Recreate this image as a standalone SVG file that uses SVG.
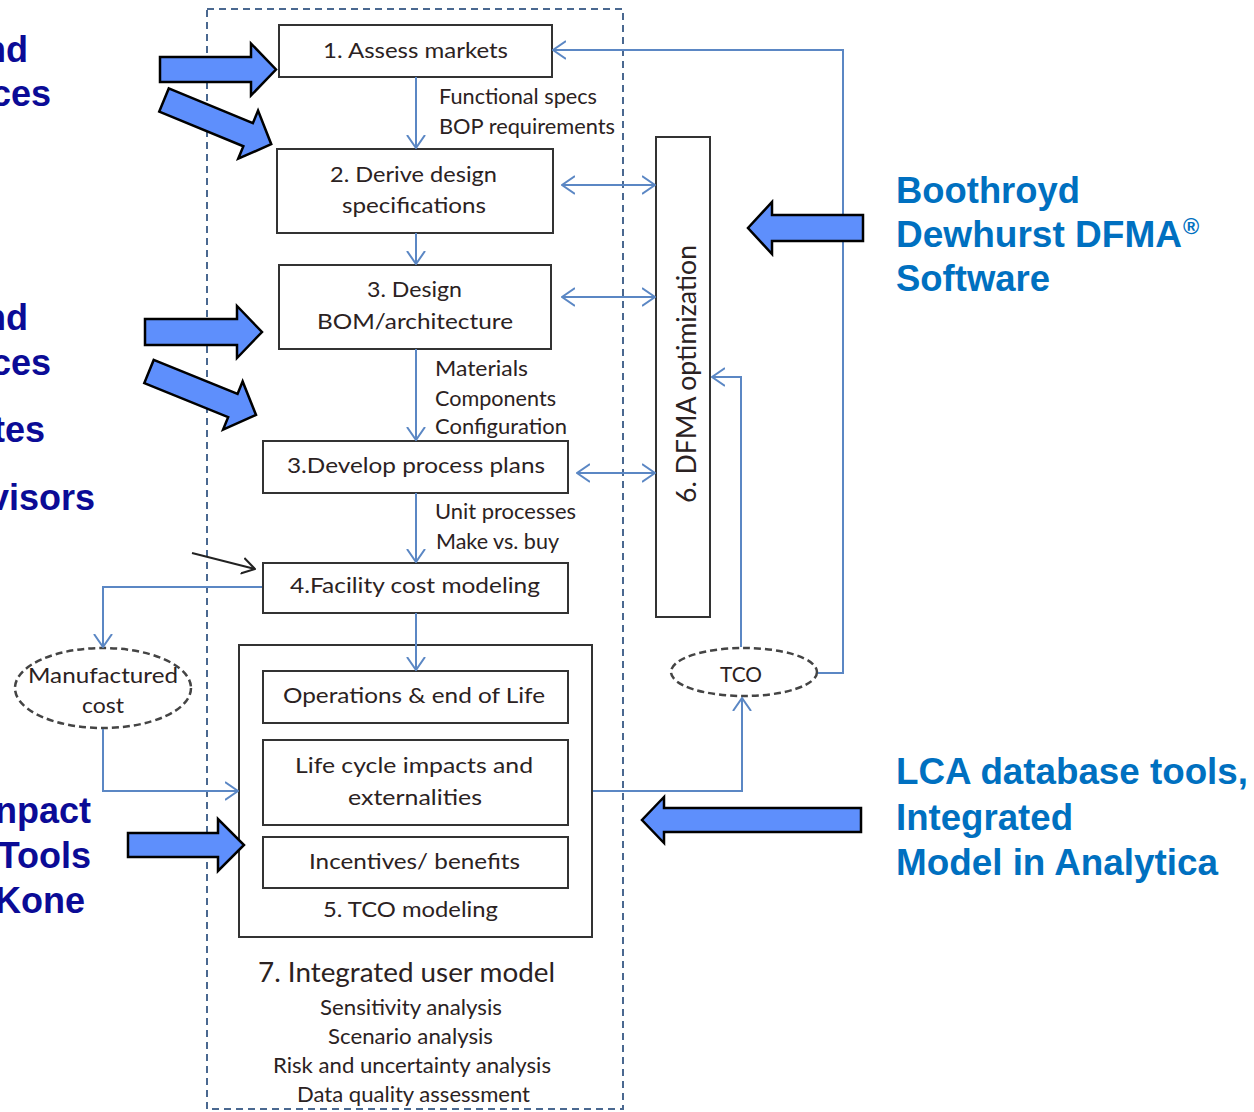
<svg xmlns="http://www.w3.org/2000/svg" width="1254" height="1112" viewBox="0 0 1254 1112">
<style>
.box{fill:#fff;stroke:#333;stroke-width:2}
.t{font-family:Lato,"Open Sans","DejaVu Sans",sans-serif;font-size:22px;fill:#2b2222}
.tl{font-family:Lato,"Open Sans","DejaVu Sans",sans-serif;font-size:26px;fill:#2b2222}
.con{fill:none;stroke:#5b87c4;stroke-width:2}
.blk{fill:#5e8ffc;stroke:#000;stroke-width:2.5;stroke-linejoin:miter}
.nav{font-family:"Liberation Sans",Arial,sans-serif;font-weight:bold;font-size:36px;fill:#0b0b96}
.cyan{font-family:"Liberation Sans",Arial,sans-serif;font-weight:bold;font-size:36px;fill:#0070c0}
.ell{fill:#fff;stroke:#444;stroke-width:2.5;stroke-dasharray:7 4}
</style>
<defs>
<marker id="ah" viewBox="0 0 14 20" refX="13" refY="10" markerWidth="14" markerHeight="20" markerUnits="userSpaceOnUse" orient="auto-start-reverse">
<path d="M0,1 L13,10 L0,19" fill="none" stroke="#5b87c4" stroke-width="2"/>
</marker>
<marker id="ahk" viewBox="0 0 14 20" refX="13" refY="10" markerWidth="14" markerHeight="20" markerUnits="userSpaceOnUse" orient="auto">
<path d="M0,2 L13,10 L0,18" fill="none" stroke="#222" stroke-width="2"/>
</marker>
</defs>
<rect width="1254" height="1112" fill="#fff"/>

<!-- dashed outer frame -->
<rect id="frame" x="207" y="9" width="416" height="1100" fill="none" stroke="#4a6890" stroke-width="2" stroke-dasharray="7 5"/>

<g id="node1">
<rect class="box" x="279" y="25" width="273" height="52"/>
<text class="t" x="323" y="58" textLength="185" lengthAdjust="spacingAndGlyphs">1. Assess markets</text>
</g>
<g id="node2">
<rect class="box" x="277" y="149" width="276" height="84"/>
<text class="t" x="330" y="182" textLength="167" lengthAdjust="spacingAndGlyphs">2. Derive design</text>
<text class="t" x="342" y="213" textLength="144" lengthAdjust="spacingAndGlyphs">specifications</text>
</g>
<g id="node3">
<rect class="box" x="279" y="265" width="272" height="84"/>
<text class="t" x="367" y="297" textLength="95" lengthAdjust="spacingAndGlyphs">3. Design</text>
<text class="t" x="317" y="329" textLength="196" lengthAdjust="spacingAndGlyphs">BOM/architecture</text>
</g>
<g id="node3b">
<rect class="box" x="263" y="441" width="305" height="52"/>
<text class="t" x="287" y="473" textLength="258" lengthAdjust="spacingAndGlyphs">3.Develop process plans</text>
</g>
<g id="node4">
<rect class="box" x="263" y="563" width="305" height="50"/>
<text class="t" x="290" y="593" textLength="250" lengthAdjust="spacingAndGlyphs">4.Facility cost modeling</text>
</g>
<g id="node5">
<rect class="box" x="239" y="645" width="353" height="292"/>
<rect class="box" x="263" y="671" width="305" height="52"/>
<text class="t" x="283" y="703" textLength="262" lengthAdjust="spacingAndGlyphs">Operations &amp; end of Life</text>
<rect class="box" x="263" y="740" width="305" height="85"/>
<text class="t" x="295" y="773" textLength="238" lengthAdjust="spacingAndGlyphs">Life cycle  impacts and</text>
<text class="t" x="348" y="805" textLength="134" lengthAdjust="spacingAndGlyphs">externalities</text>
<rect class="box" x="263" y="837" width="305" height="51"/>
<text class="t" x="309" y="869" textLength="211" lengthAdjust="spacingAndGlyphs">Incentives/ benefits</text>
<text class="t" x="323" y="917" textLength="175" lengthAdjust="spacingAndGlyphs">5. TCO  modeling</text>
</g>
<g id="node6">
<rect class="box" x="656" y="137" width="54" height="480"/>
<text class="tl" transform="translate(696,503) rotate(-90)" textLength="258" lengthAdjust="spacingAndGlyphs">6. DFMA optimization</text>
</g>
<g id="node7">
<text class="tl" x="258" y="982" textLength="297" lengthAdjust="spacingAndGlyphs">7. Integrated user model</text>
<text class="t" x="320" y="1015" textLength="182" lengthAdjust="spacingAndGlyphs">Sensitivity analysis</text>
<text class="t" x="328" y="1044" textLength="165" lengthAdjust="spacingAndGlyphs">Scenario analysis</text>
<text class="t" x="273" y="1073" textLength="278" lengthAdjust="spacingAndGlyphs">Risk and uncertainty  analysis</text>
<text class="t" x="297" y="1102" textLength="233" lengthAdjust="spacingAndGlyphs">Data quality assessment</text>
</g>
<g id="manufactured">
<ellipse class="ell" cx="103" cy="688" rx="88" ry="40"/>
<text class="t" x="28" y="683" textLength="150" lengthAdjust="spacingAndGlyphs">Manufactured</text>
<text class="t" x="82" y="713" textLength="42" lengthAdjust="spacingAndGlyphs">cost</text>
</g>
<g id="tco">
<ellipse class="ell" cx="744" cy="672" rx="73" ry="24"/>
<text class="t" x="720" y="682" textLength="42" lengthAdjust="spacingAndGlyphs">TCO</text>
</g>

<!-- connectors -->
<g id="connectors">
<path class="con" d="M416,77 V148" marker-end="url(#ah)"/>
<path class="con" d="M416,233 V264" marker-end="url(#ah)"/>
<path class="con" d="M416,349 V440" marker-end="url(#ah)"/>
<path class="con" d="M416,493 V562" marker-end="url(#ah)"/>
<path class="con" d="M416,613 V670" marker-end="url(#ah)"/>
<path class="con" d="M562,185 H655" marker-start="url(#ah)" marker-end="url(#ah)"/>
<path class="con" d="M562,297 H655" marker-start="url(#ah)" marker-end="url(#ah)"/>
<path class="con" d="M577,473 H655" marker-start="url(#ah)" marker-end="url(#ah)"/>
<path class="con" d="M818,673 H843 V50 H553" marker-end="url(#ah)"/>
<path class="con" d="M741,647 V377 H712" marker-end="url(#ah)"/>
<path class="con" d="M593,791 H742 V698" marker-end="url(#ah)"/>
<path class="con" d="M262,587 H103 V647" marker-end="url(#ah)"/>
<path class="con" d="M103,729 V791 H238" marker-end="url(#ah)"/>
<path d="M192,553 L255,569" fill="none" stroke="#222" stroke-width="2" marker-end="url(#ahk)"/>
</g>

<!-- labels on connectors -->
<g id="flow-labels">
<text class="t" x="439" y="104" textLength="158" lengthAdjust="spacingAndGlyphs">Functional specs</text>
<text class="t" x="439" y="134" textLength="176" lengthAdjust="spacingAndGlyphs">BOP requirements</text>
<text class="t" x="435" y="376" textLength="93" lengthAdjust="spacingAndGlyphs">Materials</text>
<text class="t" x="435" y="406" textLength="121" lengthAdjust="spacingAndGlyphs">Components</text>
<text class="t" x="435" y="434" textLength="132" lengthAdjust="spacingAndGlyphs">Configuration</text>
<text class="t" x="435" y="519" textLength="141" lengthAdjust="spacingAndGlyphs">Unit processes</text>
<text class="t" x="436" y="549" textLength="123" lengthAdjust="spacingAndGlyphs">Make vs. buy</text>
</g>

<!-- block arrows -->
<g id="block-arrows">
<path class="blk" transform="translate(160,69.5)" d="M0,-12.5 H91 V-26 L116,0 L91,26 V12.5 H0 Z"/>
<path class="blk" transform="translate(164,100) rotate(22.4)" d="M0,-12.5 H91 V-26 L116,0 L91,26 V12.5 H0 Z"/>
<path class="blk" transform="translate(145,332)" d="M0,-13 H92 V-26 L117,0 L92,26 V13 H0 Z"/>
<path class="blk" transform="translate(149,371.5) rotate(22.1)" d="M0,-12.5 H90.5 V-26 L115.5,0 L90.5,26 V12.5 H0 Z"/>
<path class="blk" transform="translate(128,845)" d="M0,-12 H90 V-26 L116,0 L90,26 V12 H0 Z"/>
<path class="blk" transform="translate(863,228) rotate(180)" d="M0,-13 H91 V-26 L115,0 L91,26 V13 H0 Z"/>
<path class="blk" transform="translate(861,820) rotate(180)" d="M0,-12 H197 V-23 L219,0 L197,23 V12 H0 Z"/>
</g>

<!-- side texts (clipped at the left edge as in the source) -->
<g id="left-text">
<text class="nav" x="28" y="62" text-anchor="end">nd</text>
<text class="nav" x="51" y="106" text-anchor="end">ces</text>
<text class="nav" x="28" y="330" text-anchor="end">nd</text>
<text class="nav" x="51" y="375" text-anchor="end">ces</text>
<text class="nav" x="45" y="442" text-anchor="end">tes</text>
<text class="nav" x="95" y="510" text-anchor="end">visors</text>
<text class="nav" x="91" y="823" text-anchor="end">npact</text>
<text class="nav" x="91" y="868" text-anchor="end">Tools</text>
<text class="nav" x="85" y="913" text-anchor="end">Kone</text>
</g>
<g id="right-text">
<text class="cyan" x="896" y="203" textLength="184" lengthAdjust="spacingAndGlyphs">Boothroyd</text>
<text class="cyan" x="896" y="247"><tspan textLength="286" lengthAdjust="spacingAndGlyphs">Dewhurst DFMA</tspan><tspan font-size="22" dy="-13" dx="1">®</tspan></text>
<text class="cyan" x="896" y="291" textLength="154" lengthAdjust="spacingAndGlyphs">Software</text>
<text class="cyan" x="896" y="784" textLength="352" lengthAdjust="spacingAndGlyphs">LCA database tools,</text>
<text class="cyan" x="896" y="830" textLength="177" lengthAdjust="spacingAndGlyphs">Integrated</text>
<text class="cyan" x="896" y="875" textLength="322" lengthAdjust="spacingAndGlyphs">Model in Analytica</text>
</g>
</svg>
